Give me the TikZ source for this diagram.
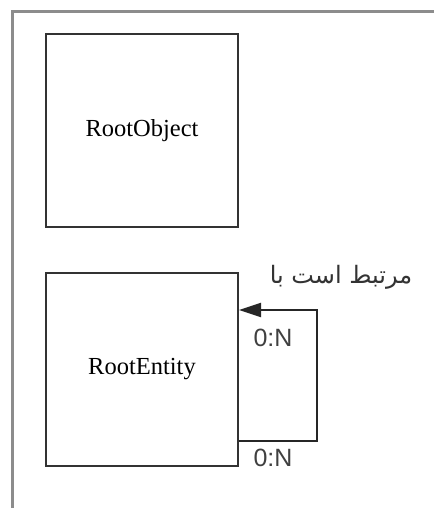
\documentclass[tikz,border=0pt]{standalone}
\usepackage{fontspec}
\setmainfont{Liberation Serif}
\newfontfamily\labelfont{Liberation Sans}
\newfontfamily\arabicfont[Script=Arabic]{DejaVu Sans}
\TeXXeTstate=1
\usetikzlibrary{arrows.meta}
\tikzset{
  entity/.style={draw=black!80, line width=2pt, minimum width=192pt, minimum height=193pt, inner sep=0pt, font=\fontsize{24.5}{27}\selectfont},
  card/.style={font=\labelfont\fontsize{25}{27}\selectfont, text=black!75, inner sep=0pt},
  conn/.style={draw=black!85, line width=2pt},
}
\begin{document}
\begin{tikzpicture}[x=1pt,y=-1pt]
\useasboundingbox (0,0) rectangle (434,508);
\draw[draw=gray!90, line width=3pt] (12,508) -- (12,12) -- (434,12);
\node[entity] (obj) at (142,130.5) {RootObject};
\node[entity] (ent) at (142,369.5) {RootEntity};
\coordinate (a) at (ent.east |- 0,310);
\coordinate (b) at (ent.east |- 0,441);
\draw[conn, -{Triangle[length=22pt,width=14pt]}] (b) -- (317,441) -- (317,310) -- (a);
\node[card] (c1) at (273,338) {0:N};
\node[card] (c2) at (273,458) {0:N};
\node[font=\arabicfont\fontsize{24}{28}\selectfont, text=black!80, inner sep=0pt] (rel) at (341,277) {\beginR مرتبط است با\endR};
\end{tikzpicture}
\end{document}
